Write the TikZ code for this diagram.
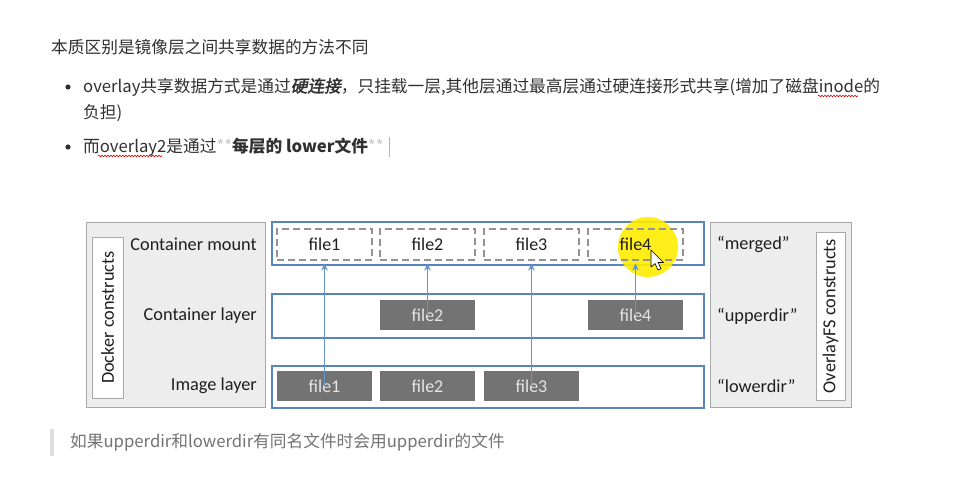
\documentclass[tikz,border=0pt]{standalone}
\usepackage{fontspec}
\setmainfont{Noto Sans CJK SC}
\newfontfamily\dia{Carlito}
\newfontfamily\cjkbi{Noto Sans CJK SC}[FakeSlant=0.2,FakeBold=2]
\usetikzlibrary{arrows.meta,decorations.pathmorphing}
\definecolor{rowblue}{HTML}{5A84BE}
\definecolor{arrowblue}{HTML}{6494CE}
\definecolor{boxgray}{HTML}{737373}
\definecolor{panelgray}{HTML}{EDEDED}
\definecolor{panelline}{HTML}{A8A8A8}
\definecolor{txtgray}{HTML}{303030}
\begin{document}
\begin{tikzpicture}[x=1pt,y=-1pt,
  txt/.style={anchor=west,inner sep=0pt,font=\fontsize{16.7}{19}\selectfont,text=txtgray},
  lbl/.style={inner sep=0pt,font=\dia\fontsize{18.3}{21}\selectfont,text=black!88},
  panel/.style={draw=panelline,fill=panelgray,line width=0.8pt},
  inner/.style={draw=panelline,fill=white,line width=0.8pt},
  row/.style={draw=rowblue,line width=1.6pt},
  dbox/.style={draw=gray!85,dash pattern=on 7pt off 4pt,line width=1.1pt,minimum width=95pt,minimum height=31pt,inner sep=0pt,font=\dia\fontsize{18}{21}\selectfont,text=black!88},
  fbox/.style={fill=boxgray,minimum width=95pt,minimum height=30pt,inner sep=0pt,font=\dia\fontsize{18}{21}\selectfont,text=black!10},
  link/.style={draw=arrowblue,line width=1.6pt,-{Stealth[length=7pt,width=6.5pt]},shorten >=3pt},
  squig/.style={draw=red!85!black,line width=0.6pt,decorate,decoration={snake,amplitude=0.8pt,segment length=3pt}}]
\useasboundingbox (0,0) rectangle (969,489);
\fill[white] (0,0) rectangle (969,489);

% header text
\node[txt] (t1) at (51,47) {本质区别是镜像层之间共享数据的方法不同};
\fill[txtgray] (68,87) circle (2.6pt);
\node[txt] (t2) at (83,87) {overlay共享数据方式是通过{\cjkbi 硬连接}，只挂载一层,其他层通过最高层通过硬连接形式共享(增加了磁盘inode的};
\node[txt] (t3) at (83,113) {负担)};
\fill[txtgray] (68,147) circle (2.6pt);
\node[txt] (t4) at (83,147) {而overlay2是通过\textcolor{gray!45}{**}{\bfseries 每层的 lower文件}\textcolor{gray!45}{**}};
\draw[gray!60,line width=0.6pt] (389,137) -- (389,157);
\draw[squig] (818,96) -- (858,96);
\draw[squig] (98,156) -- (162,156);

% left panel
\draw[panel] (86,222) rectangle (265,407);
\draw[inner] (92,237) rectangle (123,398);
\node[lbl,rotate=90] (dc) at (107.5,317.5) {Docker constructs};
\node[lbl,anchor=east] (lm) at (257,244) {Container mount};
\node[lbl,anchor=east] (lc) at (257,316) {Container layer};
\node[lbl,anchor=east] (li) at (257,386) {Image layer};

% right panel
\draw[panel] (710,222) rectangle (851,407);
\draw[inner] (816,232) rectangle (845,400);
\node[lbl,rotate=90] (oc) at (830.5,316) {OverlayFS constructs};
\node[lbl,anchor=west] (rm) at (717,244) {“merged”};
\node[lbl,anchor=west] (ru) at (717,316) {“upperdir”};
\node[lbl,anchor=west] (rl) at (717,386) {“lowerdir”};

% rows
\draw[row] (272,222) rectangle (704,265);
\draw[row] (272,294) rectangle (704,338);
\draw[row] (272,366) rectangle (704,408);

% highlight
\fill[yellow!95!orange,opacity=0.9] (648,247) circle (30pt);

% merged (dashed)
\node[dbox] (m1) at (324.5,244.5) {file1};
\node[dbox] (m2) at (427.5,244.5) {file2};
\node[dbox] (m3) at (531.5,244.5) {file3};
\node[dbox] (m4) at (635.5,244.5) {file4};
% upper
\node[fbox] (u2) at (427.5,315) {file2};
\node[fbox] (u4) at (635.5,315) {file4};
% lower
\node[fbox] (l1) at (324.5,386) {file1};
\node[fbox] (l2) at (427.5,386) {file2};
\node[fbox] (l3) at (531.5,386) {file3};

\draw[link] (l1.center) -- (m1.south);
\draw[link] (u2.center) -- (m2.south);
\draw[link] (l3.center) -- (m3.south);
\draw[link] (u4.center) -- (m4.south);

% mouse cursor
\draw[black,fill=white,line width=0.6pt,line join=round] (651,250) -- (651,267) -- (655,263.5) -- (658,270) -- (661,268.7) -- (658,262.5) -- (663.5,262.5) -- cycle;

% quote
\fill[gray!25] (50,429) rectangle (54,456);
\node[txt,text=gray!90!black] (q) at (70,442) {如果upperdir和lowerdir有同名文件时会用upperdir的文件};
\end{tikzpicture}
\end{document}
